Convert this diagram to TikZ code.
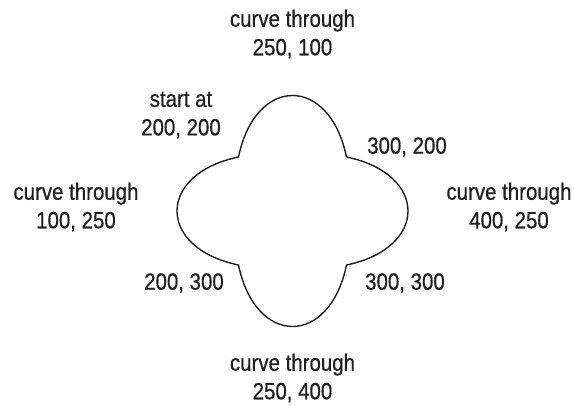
\documentclass[tikz,border=0pt]{standalone}
\usepackage{fontspec}
\setmainfont{Liberation Sans}[FakeStretch=0.87, FakeBold=0.6]
\usetikzlibrary{calc}
\tikzset{
  outline/.style={draw=black!90, line width=1.35pt, line join=miter},
  ptlab/.style={align=center, inner sep=0pt, text=black!88,
                font=\fontsize{23.5}{28.5}\selectfont},
}

\begin{document}
\begin{tikzpicture}[x=1pt, y=-1pt]
\useasboundingbox (0,0) rectangle (574,406);

% ===================== 1. the four corner points =========================
\coordinate (tl) at (238.5,157);
\coordinate (tr) at (346.5,157);
\coordinate (br) at (346.5,265);
\coordinate (bl) at (238.5,265);

% ===================== 2. the four-lobed outline =========================
\draw[outline] (tl) .. controls +(17,-82) and +(-17,-82) .. (tr)
  .. controls +(82,17) and +(82,-17) .. (br)
  .. controls +(-17,82) and +(17,82) .. (bl)
  .. controls ($(bl)+(-82,-17)$) and ($(tl)+(-82,17)$) .. cycle;

% ===================== 3. labels =========================================
\node[ptlab] (n1) at (292.5,34)  {curve through\\250, 100};
\node[ptlab] (n2) at (181,115)   {start at\\200, 200};
\node[ptlab] (n3) at (407,147)   {300, 200};
\node[ptlab] (n4) at (76,207)    {curve through\\100, 250};
\node[ptlab] (n5) at (509,207)   {curve through\\400, 250};
\node[ptlab] (n6) at (184,283)   {200, 300};
\node[ptlab] (n7) at (405,283)   {300, 300};
\node[ptlab] (n8) at (292.5,378) {curve through\\250, 400};

\end{tikzpicture}
\end{document}
